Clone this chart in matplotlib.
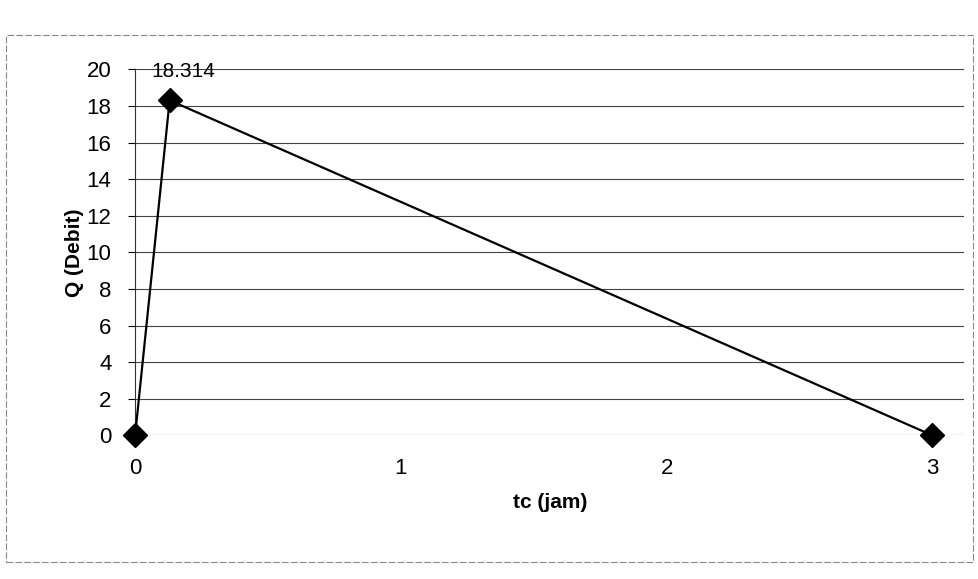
import matplotlib.pyplot as plt
from matplotlib.patches import Rectangle

plt.rcParams['font.family'] = ['Liberation Sans', 'DejaVu Sans']

# Data
tc = [0, 0.13, 3]
Q = [0, 18.314, 0]
peak_label = '18.314'
y_ticks = [0, 2, 4, 6, 8, 10, 12, 14, 16, 18, 20]
x_ticks = [0, 1, 2, 3]

fig = plt.figure(figsize=(9.79, 5.79), dpi=100)
ax = fig.add_axes([0.138, 0.248, 0.847, 0.632])

# outer chart border
fig.patches.append(Rectangle((0.006, 0.03), 0.988, 0.91, transform=fig.transFigure,
                             fill=False, edgecolor='#888888', lw=0.8, ls=(0, (6, 2))))

for y in y_ticks:
    ax.axhline(y, color='#444444', lw=0.8, zorder=1)

ax.plot(tc, Q, color='black', lw=1.6, marker='D', markersize=12,
        markerfacecolor='black', zorder=3, clip_on=False)
ax.annotate(peak_label, (tc[1], Q[1]), xytext=(10, 14), textcoords='offset points',
            ha='center', va='bottom', fontsize=15)

ax.set_xlim(0, 3.12)
ax.set_ylim(0, 20)
ax.set_yticks(y_ticks)
ax.set_xticks(x_ticks)
ax.tick_params(axis='y', labelsize=16, length=5, direction='out', pad=12)
ax.tick_params(axis='x', labelsize=16, length=0, pad=16)

for s in ['top', 'right', 'bottom']:
    ax.spines[s].set_visible(False)
ax.spines['left'].set_color('#333333')
ax.spines['left'].set_linestyle((0, (3, 1)))

ax.set_xlabel('tc (jam)', fontsize=15, fontweight='bold', labelpad=10)
ax.set_ylabel('Q (Debit)', fontsize=15, fontweight='bold', labelpad=2)

plt.savefig('out.png', dpi=100)
